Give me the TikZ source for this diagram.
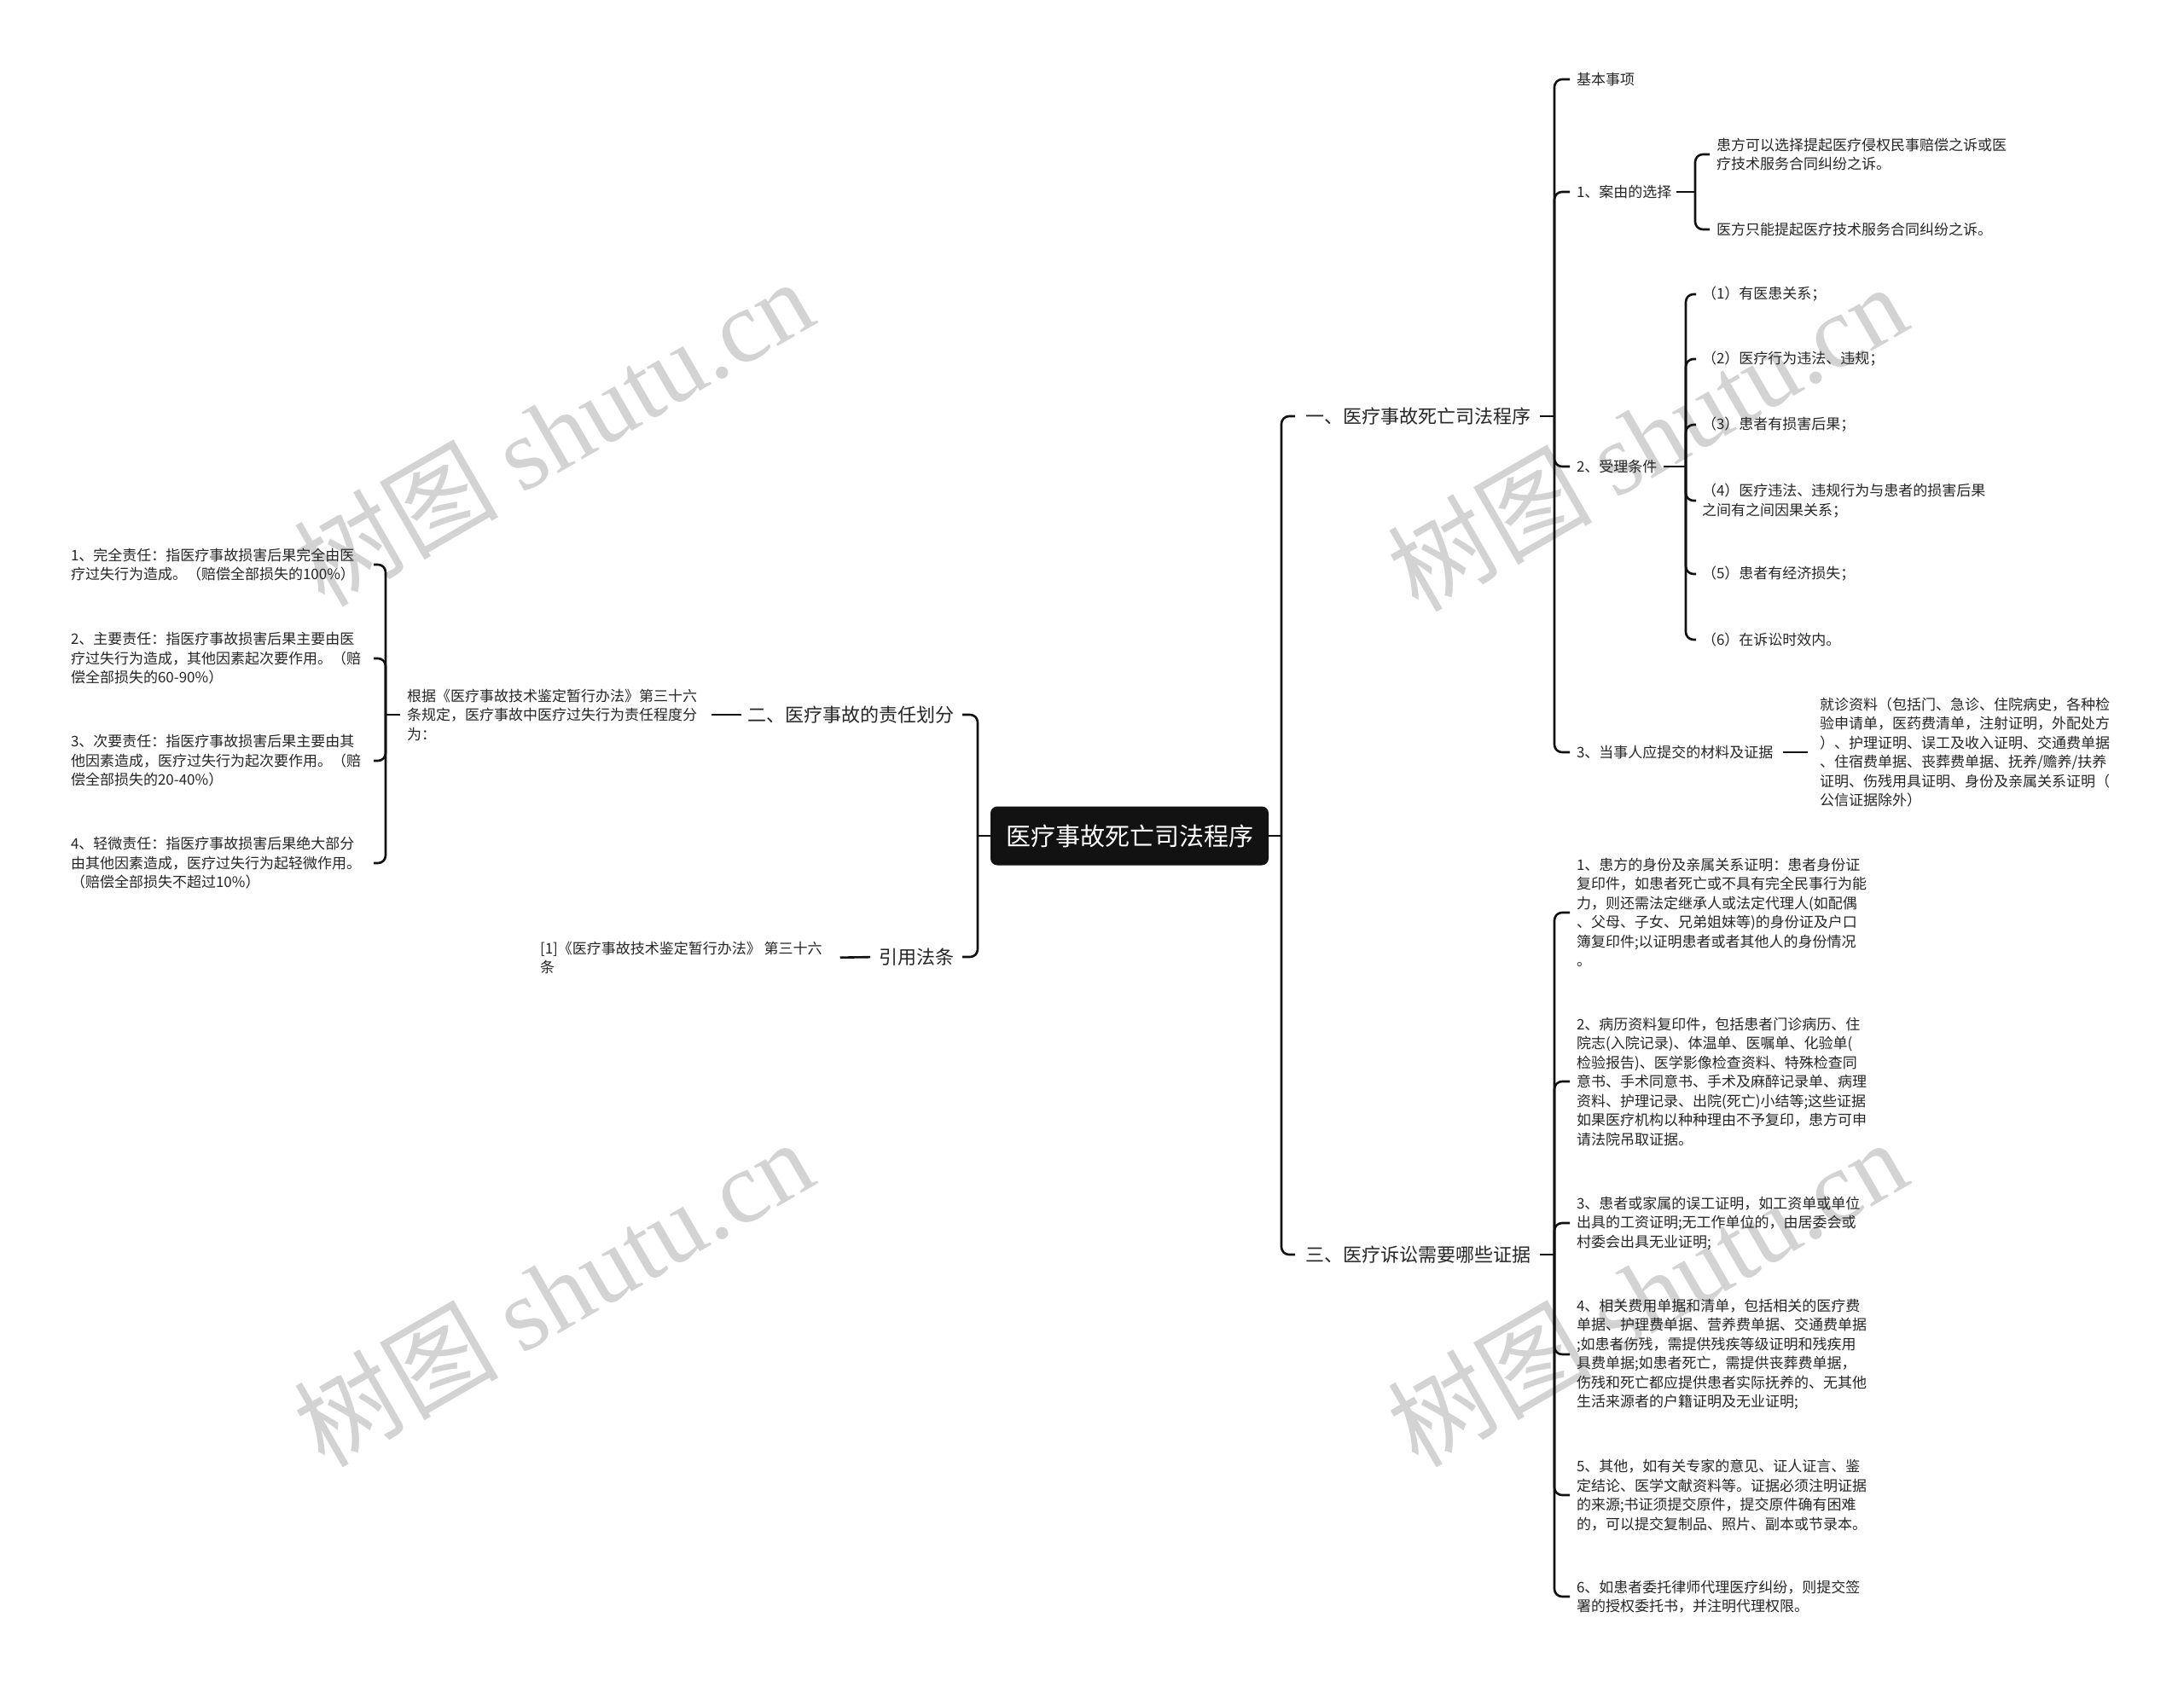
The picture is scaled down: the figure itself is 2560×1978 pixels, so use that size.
\documentclass[tikz,border=0pt]{standalone}
\usepackage{fontspec}
\setmainfont{Noto Sans CJK SC}
\newfontfamily\wmserif{Liberation Serif}
\usetikzlibrary{calc}
\definecolor{txt}{HTML}{262626}
\definecolor{wm}{HTML}{D3D3D3}
\definecolor{rootfill}{HTML}{121212}
\definecolor{lnc}{HTML}{111111}
\begin{document}
\begin{tikzpicture}[x=1pt,y=-1pt,
  conn/.style={draw=lnc, line width=2.6pt, rounded corners=9pt},
  small/.style={font=\fontsize{17}{22.5}\selectfont, align=left, inner sep=0pt, outer sep=0pt, text=txt},
  lvone/.style={font=\fontsize{22}{26}\selectfont, inner sep=0pt, outer sep=0pt, text=txt},
  leftitem/.style={small, text width=355pt, anchor=west},
  rootbox/.style={fill=rootfill, rounded corners=8pt, text=white, font=\fontsize{29}{32}\selectfont, minimum width=326pt, minimum height=69pt, inner sep=0pt},
  wmark/.style={text=wm, rotate=30, font=\fontsize{120}{120}\selectfont, inner sep=0pt}
]
\useasboundingbox (0,0) rectangle (2560,1978);
\fill[white] (0,0) rectangle (2560,1978);

% watermarks
\node[wmark] (wm1) at (648,506) {树图 {\wmserif shutu.cn}};
\node[wmark] (wm2) at (648,1515) {树图 {\wmserif shutu.cn}};
\node[wmark] (wm3) at (1930,512) {树图 {\wmserif shutu.cn}};
\node[wmark] (wm4) at (1930,1515) {树图 {\wmserif shutu.cn}};

% root
\node[rootbox] (root) at (1324,980) {医疗事故死亡司法程序};
\coordinate (LT) at (1146,980);
\coordinate (RT) at (1502,980);

% level 1
\node[lvone, anchor=east] (n2) at (1118,838) {二、医疗事故的责任划分};
\node[lvone, anchor=east] (nref) at (1118,1122) {引用法条};
\node[lvone, anchor=west] (n1) at (1530,488) {一、医疗事故死亡司法程序};
\node[lvone, anchor=west] (n3) at (1530,1471) {三、医疗诉讼需要哪些证据};

% left branch content
\node[small, anchor=west] (n2a) at (477,838) {根据《医疗事故技术鉴定暂行办法》第三十六\\条规定，医疗事故中医疗过失行为责任程度分\\为：};
\coordinate (LB) at (452,838);
\node[leftitem] (i1) at (83,662) {1、完全责任：指医疗事故损害后果完全由医\\疗过失行为造成。（赔偿全部损失的100\%）};
\node[leftitem] (i2) at (83,772) {2、主要责任：指医疗事故损害后果主要由医\\疗过失行为造成，其他因素起次要作用。（赔\\偿全部损失的60-90\%）};
\node[leftitem] (i3) at (83,892) {3、次要责任：指医疗事故损害后果主要由其\\他因素造成，医疗过失行为起次要作用。（赔\\偿全部损失的20-40\%）};
\node[leftitem] (i4) at (83,1012) {4、轻微责任：指医疗事故损害后果绝大部分\\由其他因素造成，医疗过失行为起轻微作用。\\（赔偿全部损失不超过10\%）};
\node[small, anchor=west] (nrefa) at (633,1123) {[1]《医疗事故技术鉴定暂行办法》 第三十六\\条};

% branch one
\coordinate (T1) at (1822,488);
\node[small, anchor=west] (c0) at (1848,93) {基本事项};
\node[small, anchor=west] (c1) at (1848,225) {1、案由的选择};
\node[small, anchor=west] (c2) at (1848,547) {2、受理条件};
\node[small, anchor=west] (c3) at (1848,882) {3、当事人应提交的材料及证据};
\coordinate (T11) at (1987,225);
\node[small, anchor=west] (c1a) at (2012,181) {患方可以选择提起医疗侵权民事赔偿之诉或医\\疗技术服务合同纠纷之诉。};
\node[small, anchor=west] (c1b) at (2012,269) {医方只能提起医疗技术服务合同纠纷之诉。};
\coordinate (T12) at (1976,547);
\node[small, anchor=west] (k1) at (1995,345) {（1）有医患关系；};
\node[small, anchor=west] (k2) at (1995,421) {（2）医疗行为违法、违规；};
\node[small, anchor=west] (k3) at (1995,498) {（3）患者有损害后果；};
\node[small, anchor=west] (k4) at (1995,587) {（4）医疗违法、违规行为与患者的损害后果\\之间有之间因果关系；};
\node[small, anchor=west] (k5) at (1995,673) {（5）患者有经济损失；};
\node[small, anchor=west] (k6) at (1995,750) {（6）在诉讼时效内。};
\node[small, anchor=west] (c3a) at (2133,882) {就诊资料（包括门、急诊、住院病史，各种检\\验申请单，医药费清单，注射证明，外配处方\\）、护理证明、误工及收入证明、交通费单据\\、住宿费单据、丧葬费单据、抚养/赡养/扶养\\证明、伤残用具证明、身份及亲属关系证明（\\公信证据除外）};

% branch three
\coordinate (T3) at (1822,1471);
\node[small, anchor=west] (d1) at (1848,1070) {1、患方的身份及亲属关系证明：患者身份证\\复印件，如患者死亡或不具有完全民事行为能\\力，则还需法定继承人或法定代理人(如配偶\\、父母、子女、兄弟姐妹等)的身份证及户口\\簿复印件;以证明患者或者其他人的身份情况\\。};
\node[small, anchor=west] (d2) at (1848,1268) {2、病历资料复印件，包括患者门诊病历、住\\院志(入院记录)、体温单、医嘱单、化验单(\\检验报告)、医学影像检查资料、特殊检查同\\意书、手术同意书、手术及麻醉记录单、病理\\资料、护理记录、出院(死亡)小结等;这些证据\\如果医疗机构以种种理由不予复印，患方可申\\请法院吊取证据。};
\node[small, anchor=west] (d3) at (1848,1434) {3、患者或家属的误工证明，如工资单或单位\\出具的工资证明;无工作单位的，由居委会或\\村委会出具无业证明;};
\node[small, anchor=west] (d4) at (1848,1588) {4、相关费用单据和清单，包括相关的医疗费\\单据、护理费单据、营养费单据、交通费单据\\;如患者伤残，需提供残疾等级证明和残疾用\\具费单据;如患者死亡，需提供丧葬费单据，\\伤残和死亡都应提供患者实际抚养的、无其他\\生活来源者的户籍证明及无业证明;};
\node[small, anchor=west] (d5) at (1848,1753) {5、其他，如有关专家的意见、证人证言、鉴\\定结论、医学文献资料等。证据必须注明证据\\的来源;书证须提交原件，提交原件确有困难\\的，可以提交复制品、照片、副本或节录本。};
\node[small, anchor=west] (d6) at (1848,1872) {6、如患者委托律师代理医疗纠纷，则提交签\\署的授权委托书，并注明代理权限。};

% connectors: root
\draw[conn] (root.east) -- (RT);
\draw[conn] (root.west) -- (LT);
\draw[conn, shorten >=12pt] (RT) |- (n1.west);
\draw[conn, shorten >=12pt] (RT) |- (n3.west);
\draw[conn, shorten >=10pt] (LT) |- (n2.east);
\draw[conn, shorten >=10pt] (LT) |- (nref.east);

% left
\draw[conn, shorten <=7pt, shorten >=17pt] (n2.west) -- (n2a.east);
\draw[conn, shorten >=8pt] (LB) -- (n2a.west);
\foreach \n in {i1,i2,i3,i4} \draw[conn] (LB) |- (\n.east);
\draw[conn, shorten <=10pt, shorten >=21pt] (nref.west) -- (nrefa.east);

% branch one
\draw[conn, shorten <=11pt] (n1.east) -- (T1);
\foreach \n in {c0,c1,c2,c3} \draw[conn, shorten >=8pt] (T1) |- (\n.west);
\draw[conn, shorten <=6pt] (c1.east) -- (T11);
\foreach \n in {c1a,c1b} \draw[conn, shorten >=8pt] (T11) |- (\n.west);
\draw[conn, shorten <=8pt] (c2.east) -- (T12);
\foreach \n in {k1,k2,k3,k4,k5,k6} \draw[conn, shorten >=7pt] (T12) |- (\n.west);
\draw[conn, shorten <=12pt, shorten >=14pt] (c3.east) -- (c3a.west);

% branch three
\draw[conn, shorten <=11pt] (n3.east) -- (T3);
\foreach \n in {d1,d2,d3,d4,d5,d6} \draw[conn, shorten >=8pt] (T3) |- (\n.west);
\end{tikzpicture}
\end{document}
